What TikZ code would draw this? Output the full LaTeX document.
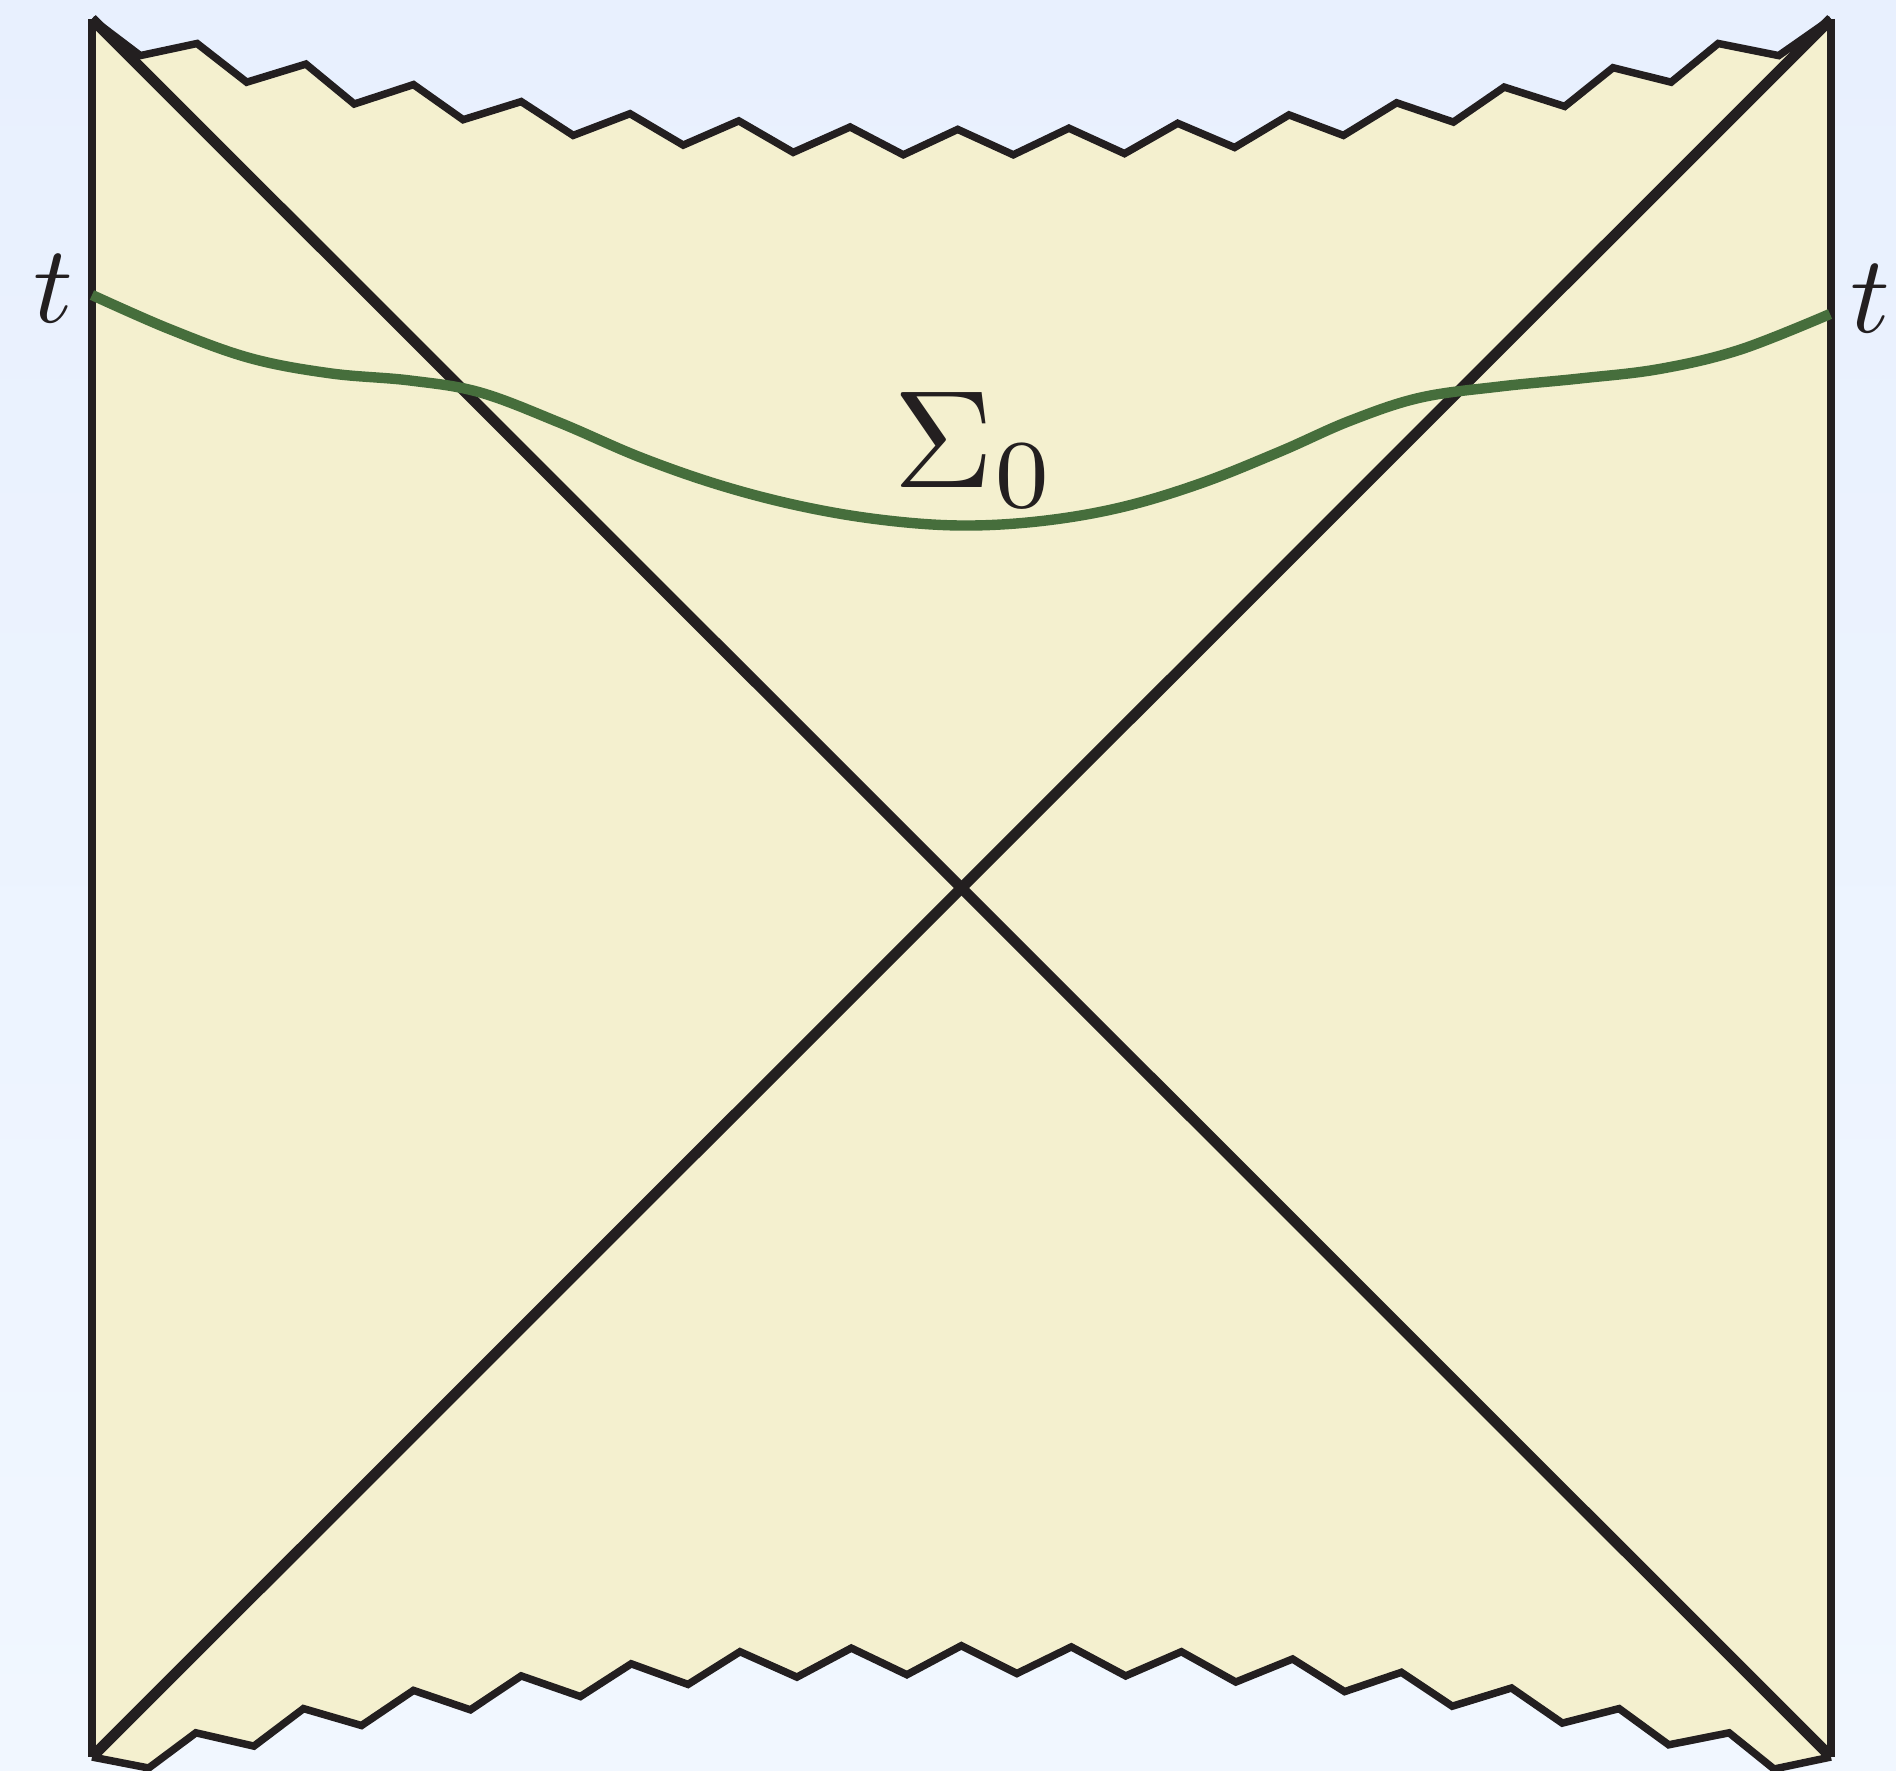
\documentclass[tikz,border=0pt]{standalone}
\usetikzlibrary{calc}
\definecolor{ink}{HTML}{231F20}
\definecolor{leaf}{HTML}{466E3C}
\definecolor{sand}{HTML}{F4F0CF}
\definecolor{skytop}{HTML}{E8F0FE}
\definecolor{skybot}{HTML}{F1F7FF}
\tikzset{
  border/.style={draw=ink, line width=4pt},
  horizon/.style={draw=ink, line width=5.4pt},
  zig/.style={draw=ink, line width=3.75pt, line join=miter},
  slice/.style={draw=leaf, line width=5.2pt},
  lbl/.style={text=ink, inner sep=0pt, anchor=base}
}
\begin{document}
\begin{tikzpicture}[x=0.5pt, y=-0.5pt]
\useasboundingbox (0,0) rectangle (1896,1771);
\shade[top color=skytop, bottom color=skybot] (0,0) rectangle (1896,1771);
\coordinate (TL) at (92,19);
\coordinate (TR) at (1831,19);
\coordinate (BL) at (92,1757);
\coordinate (BR) at (1831,1757);
% region fill
\fill[sand] (TL) -- (140.3,55.6) -- (197.1,43.5) -- (246.7,82.2) -- (305.9,64.1) -- (354.3,104.0) -- (413.5,84.6) -- (463.1,119.7) -- (521.2,101.6) -- (573.2,135.4) -- (630.0,113.7) -- (683.2,145.1) -- (738.8,120.9) -- (793.2,152.4) -- (850.1,127.0) -- (903.3,154.8) -- (957.7,129.4) -- (1013.3,154.8) -- (1068.9,128.2) -- (1124.5,153.6) -- (1177.7,123.3) -- (1234.6,147.5) -- (1289.0,114.9) -- (1343.4,135.4) -- (1396.6,102.8) -- (1453.4,122.1) -- (1504.2,87.1) -- (1564.7,106.4) -- (1613.0,67.7) -- (1671.1,82.2) -- (1718.2,43.5) -- (1778.7,55.6) -- (TR)
 -- (BR) -- (1774,1769) -- (1729.1,1732.8) -- (1668.7,1744.8) -- (1619.1,1708.6) -- (1562.3,1723.1) -- (1511.5,1688.0) -- (1452.2,1706.2) -- (1401.4,1672.3) -- (1344.6,1691.6) -- (1292.6,1659.0) -- (1235.8,1682.0) -- (1181.4,1651.7) -- (1125.7,1675.9) -- (1071.3,1646.9) -- (1016.9,1673.5) -- (961.3,1645.7) -- (906.9,1674.7) -- (851.3,1648.1) -- (796.9,1677.1) -- (740.0,1651.7) -- (688.0,1684.4) -- (631.2,1663.8) -- (580.4,1696.5) -- (521.2,1675.9) -- (470.4,1709.8) -- (413.5,1690.4) -- (361.5,1725.5) -- (303.5,1708.6) -- (253.9,1746.1) -- (195.9,1732.8) -- (148.7,1768) -- (BL) -- cycle;
% singularities
\draw[zig] (TL) -- (140.3,55.6) -- (197.1,43.5) -- (246.7,82.2) -- (305.9,64.1) -- (354.3,104.0) -- (413.5,84.6) -- (463.1,119.7) -- (521.2,101.6) -- (573.2,135.4) -- (630.0,113.7) -- (683.2,145.1) -- (738.8,120.9) -- (793.2,152.4) -- (850.1,127.0) -- (903.3,154.8) -- (957.7,129.4) -- (1013.3,154.8) -- (1068.9,128.2) -- (1124.5,153.6) -- (1177.7,123.3) -- (1234.6,147.5) -- (1289.0,114.9) -- (1343.4,135.4) -- (1396.6,102.8) -- (1453.4,122.1) -- (1504.2,87.1) -- (1564.7,106.4) -- (1613.0,67.7) -- (1671.1,82.2) -- (1718.2,43.5) -- (1778.7,55.6) -- (TR);
\draw[zig] (BL) -- (148.7,1768) -- (195.9,1732.8) -- (253.9,1746.1) -- (303.5,1708.6) -- (361.5,1725.5) -- (413.5,1690.4) -- (470.4,1709.8) -- (521.2,1675.9) -- (580.4,1696.5) -- (631.2,1663.8) -- (688.0,1684.4) -- (740.0,1651.7) -- (796.9,1677.1) -- (851.3,1648.1) -- (906.9,1674.7) -- (961.3,1645.7) -- (1016.9,1673.5) -- (1071.3,1646.9) -- (1125.7,1675.9) -- (1181.4,1651.7) -- (1235.8,1682.0) -- (1292.6,1659.0) -- (1344.6,1691.6) -- (1401.4,1672.3) -- (1452.2,1706.2) -- (1511.5,1688.0) -- (1562.3,1723.1) -- (1619.1,1708.6) -- (1668.7,1744.8) -- (1729.1,1732.8) -- (1774,1769) -- (BR);
% boundaries
\draw[border] (TL) -- (BL);
\draw[border] (TR) -- (BR);
% horizons
\draw[horizon] (TL) -- (BR);
\draw[horizon] (BL) -- (TR);
% Cauchy slice
\draw[slice] plot[smooth, tension=0.6] coordinates {(92,295) (170,329.3) (250,358.1) (330,373.3) (410,380.5) (480,392.4) (560,422.8) (640,457.2) (720,485.2) (800,506) (880,519.6) (960,525.5) (1040,521.2) (1120,507.6) (1200,483.6) (1280,451.6) (1350,420.8) (1420,397.7) (1500,386.5) (1580,378.5) (1660,368.9) (1740,349.7) (1830,314)};
% labels
\node[lbl, scale=5.5] (tleft) at (53,322) {$t$};
\node[lbl, scale=5.5] (tright) at (1870,333) {$t$};
\node[lbl, scale=6.95] (sigma) at (975,487) {$\Sigma_0$};
\end{tikzpicture}
\end{document}
